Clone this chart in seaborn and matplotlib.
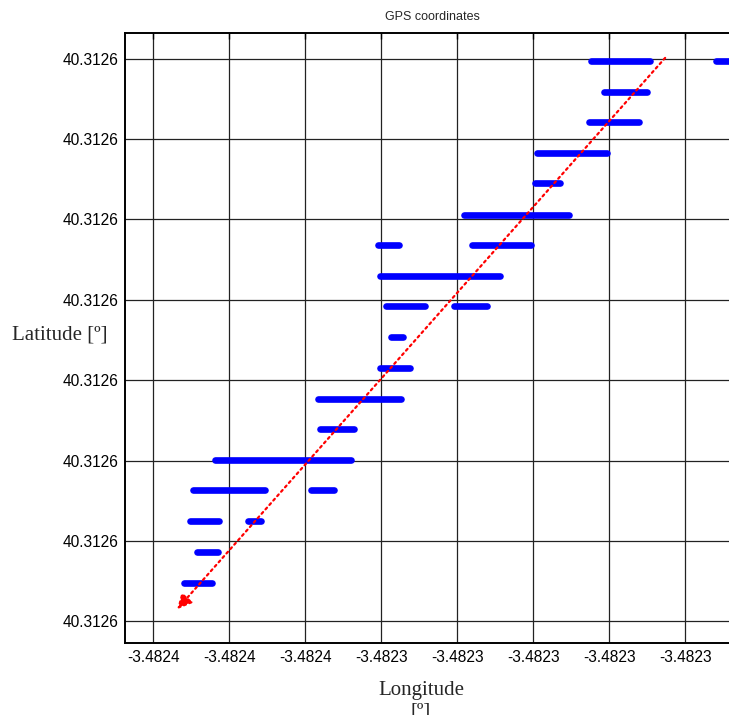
import matplotlib
matplotlib.use('Agg')
import matplotlib.pyplot as plt
from matplotlib.ticker import FixedLocator, FormatStrFormatter
import pandas as pd
import seaborn as sns

# one entry per horizontal run of GPS fixes (latitude, longitude start, longitude end)
seg_lat = [
    40.3126297, 40.3126297, 40.3126259, 40.3126221, 40.3126183, 40.3126145,
    40.3126106, 40.3126068, 40.3126068, 40.3126030, 40.3125992, 40.3125992,
    40.3125954, 40.3125915, 40.3125877, 40.3125839, 40.3125801, 40.3125763,
    40.3125763, 40.3125725, 40.3125725, 40.3125686, 40.3125648,
]
seg_lon_start = [
    -3.4822848, -3.4822519, -3.4822814, -3.4822853, -3.4822990, -3.4822996,
    -3.4823182, -3.4823409, -3.4823161, -3.4823403, -3.4823388, -3.4823209,
    -3.4823374, -3.4823403, -3.4823567, -3.4823561, -3.4823838, -3.4823896,
    -3.4823585, -3.4823903, -3.4823751, -3.4823885, -3.4823919,
]
seg_lon_end = [
    -3.4822693, -3.4822403, -3.4822701, -3.4822722, -3.4822806, -3.4822930,
    -3.4822906, -3.4823353, -3.4823006, -3.4823088, -3.4823285, -3.4823122,
    -3.4823343, -3.4823324, -3.4823348, -3.4823472, -3.4823480, -3.4823706,
    -3.4823525, -3.4823827, -3.4823717, -3.4823830, -3.4823846,
]

# red trend arrow (from, to)
arrow_from = (-3.4822653, 40.3126301)
arrow_to = (-3.4823937, 40.3125615)

x_ticks = [-3.48240, -3.48238, -3.48236, -3.48234, -3.48232, -3.48230, -3.48228, -3.48226]
y_ticks = [40.31256, 40.31257, 40.31258, 40.31259, 40.31260, 40.31261, 40.31262, 40.31263]
x_lim = (-3.4824074, -3.4822456)
y_lim = (40.3125573, 40.3126332)

rows = []
for i, (la, a, b) in enumerate(zip(seg_lat, seg_lon_start, seg_lon_end)):
    rows.append({'seg': i, 'lon': a, 'lat': la})
    rows.append({'seg': i, 'lon': b, 'lat': la})
d = pd.DataFrame(rows)

sns.set_style('white')
plt.rcParams['font.family'] = ['Liberation Sans', 'DejaVu Sans']

fig = plt.figure(figsize=(7.29, 7.15), dpi=100)
ax = fig.add_axes([125 / 729, 1 - 643 / 715, 615 / 729, 610 / 715])

sns.lineplot(
    d, x='lon', y='lat', units='seg', estimator=None, sort=False,
    color='#0000ff', lw=4.8, solid_capstyle='round', ax=ax, legend=False
)

ax.annotate(
    '', xy=arrow_to, xytext=arrow_from,
    arrowprops=dict(arrowstyle='-|>', color='red', lw=1.6, linestyle=':',
                    mutation_scale=22, shrinkA=0, shrinkB=0)
)

ax.set_xlim(*x_lim)
ax.set_ylim(*y_lim)
ax.xaxis.set_major_locator(FixedLocator(x_ticks))
ax.yaxis.set_major_locator(FixedLocator(y_ticks))
ax.xaxis.set_major_formatter(FormatStrFormatter('%.4f'))
ax.yaxis.set_major_formatter(FormatStrFormatter('%.4f'))
ax.tick_params(direction='in', length=4, width=1, labelsize=11.2, pad=5,
               top=True, right=True, colors='black')

ax.set_axisbelow(True)
ax.grid(True, color='#222222', lw=0.9)
for s in ax.spines.values():
    s.set_color('black')
    s.set_linewidth(1.4)

ax.set_title('GPS coordinates', fontsize=9, pad=9)
ax.set_xlabel('Longitude\n[º]', family=['Liberation Serif', 'DejaVu Serif'],
              fontsize=15, linespacing=1.15)
ax.xaxis.set_label_coords((421 - 125) / 615, -0.063)
ax.set_ylabel('Latitude [º]', family=['Liberation Serif', 'DejaVu Serif'],
              fontsize=15, rotation=0, ha='center', va='center')
ax.yaxis.set_label_coords((60 - 125) / 615, (643 - 335) / 610)

plt.savefig('out.png', dpi=100)
